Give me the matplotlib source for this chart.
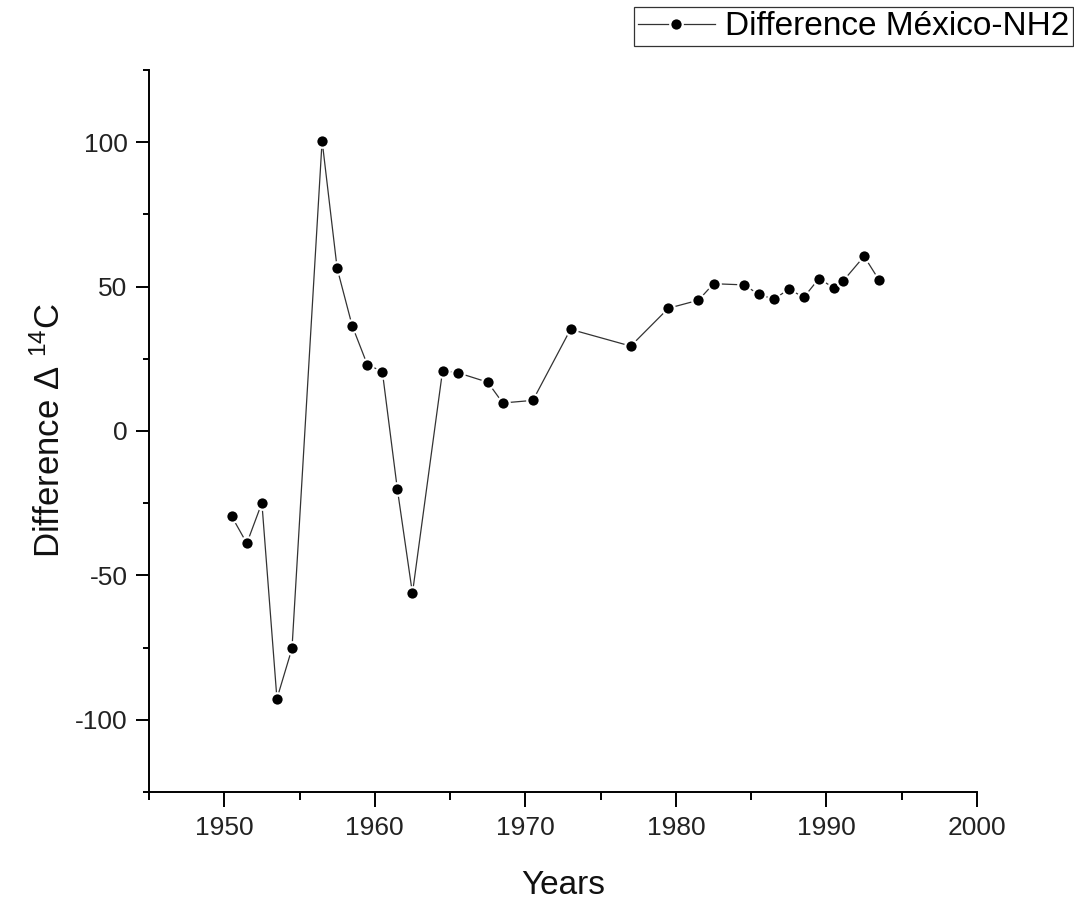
import numpy as np
import matplotlib.pyplot as plt
from matplotlib.ticker import MultipleLocator

plt.rcParams['font.family'] = ['Liberation Sans', 'DejaVu Sans']
plt.rcParams['mathtext.default'] = 'regular'
plt.rcParams['axes.unicode_minus'] = False

# Difference Mexico - NH2 (Delta 14C)
years = [1950.5, 1951.5, 1952.5, 1953.5, 1954.5, 1956.5, 1957.5, 1958.5,
         1959.5, 1960.5, 1961.5, 1962.5, 1964.5, 1965.5, 1967.5, 1968.5,
         1970.5, 1973.0, 1977.0, 1979.5, 1981.5, 1982.5, 1984.5, 1985.5,
         1986.5, 1987.5, 1988.5, 1989.5, 1990.5, 1991.1, 1992.5, 1993.5]
diff = [-29.6, -38.9, -24.9, -92.7, -75.3, 100.5, 56.3, 36.4,
        23.0, 20.6, -20.2, -56.2, 20.8, 20.2, 16.9, 9.7,
        10.6, 35.2, 29.4, 42.5, 45.3, 51.0, 50.6, 47.4,
        45.6, 49.1, 46.3, 52.8, 49.5, 51.9, 60.5, 52.2]
series_label = 'Difference México-NH2'

fig = plt.figure(figsize=(10.74, 9.01), dpi=100)
ax = fig.add_axes([0.1387, 0.121, 0.771, 0.8013])

ax.plot(years, diff, '-', color='#333333', linewidth=0.9,
        marker='o', markersize=9, markerfacecolor='black',
        markeredgecolor='white', markeredgewidth=1.6,
        label=series_label)

ax.set_xlim(1945, 2000)
ax.set_ylim(-125, 125)
ax.xaxis.set_major_locator(MultipleLocator(10))
ax.xaxis.set_minor_locator(MultipleLocator(5))
ax.yaxis.set_major_locator(MultipleLocator(50))
ax.yaxis.set_minor_locator(MultipleLocator(25))

for s in ['top', 'right']:
    ax.spines[s].set_visible(False)
for s in ['left', 'bottom']:
    ax.spines[s].set_linewidth(1.4)

ax.tick_params(axis='x', which='major', direction='out', length=11, width=1.4,
               labelsize=19, pad=6)
ax.tick_params(axis='x', which='minor', direction='out', length=6, width=1.4)
ax.tick_params(axis='y', which='major', direction='out', length=9.5, width=1.4,
               labelsize=19, pad=6)
ax.tick_params(axis='y', which='minor', direction='out', length=4, width=1.4)
for lbl in ax.get_xticklabels() + ax.get_yticklabels():
    lbl.set_color('#222222')

ax.set_xlabel('Years', fontsize=24, labelpad=22, color='#111111')
ax.set_ylabel('Difference Δ $^{14}$C', fontsize=25, labelpad=6, color='#111111')

leg = fig.legend(loc='upper right', bbox_to_anchor=(0.999, 0.992),
                 fontsize=24, frameon=True, fancybox=False,
                 edgecolor='black', borderpad=0.12, handlelength=2.3,
                 handletextpad=0.3, borderaxespad=0)
leg.get_frame().set_linewidth(0.9)

fig.savefig('out.png', dpi=100)
